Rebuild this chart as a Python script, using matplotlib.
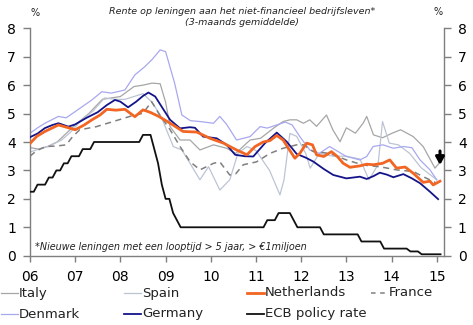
import matplotlib
matplotlib.use("Agg")
import matplotlib.pyplot as plt
from matplotlib.lines import Line2D

# ---------------- data (decimal years, % ) ----------------
germany_x = [2006.0, 2006.17, 2006.33, 2006.5, 2006.63, 2006.85, 2007.0, 2007.25, 2007.5, 2007.7,
             2007.88, 2008.0, 2008.17, 2008.35, 2008.5, 2008.62, 2008.77, 2008.95, 2009.1, 2009.32,
             2009.54, 2009.65, 2009.83, 2010.13, 2010.35, 2010.54, 2010.75, 2010.94, 2011.2, 2011.46,
             2011.68, 2011.9, 2012.1, 2012.27, 2012.5, 2012.71, 2013.0, 2013.3, 2013.45, 2013.6,
             2013.74, 2013.9, 2014.04, 2014.26, 2014.45, 2014.63, 2014.85, 2015.03]
germany_y = [4.17, 4.3, 4.49, 4.6, 4.66, 4.54, 4.62, 4.85, 5.05, 5.3,
             5.48, 5.42, 5.22, 5.42, 5.62, 5.74, 5.6, 5.15, 4.78, 4.48,
             4.52, 4.5, 4.19, 4.13, 3.9, 3.55, 3.5, 3.49, 3.96, 4.33,
             4.01, 3.58, 3.45, 3.31, 3.05, 2.84, 2.72, 2.78, 2.7, 2.8,
             2.92, 2.85, 2.76, 2.87, 2.72, 2.55, 2.25, 1.99]

nl_x = [2006.0, 2006.15, 2006.33, 2006.63, 2006.85, 2007.0, 2007.2, 2007.37, 2007.55, 2007.7,
        2007.9, 2008.1, 2008.32, 2008.5, 2008.65, 2008.85, 2009.1, 2009.39, 2009.69, 2009.98,
        2010.28, 2010.57, 2010.8, 2010.98, 2011.16, 2011.31, 2011.46, 2011.6, 2011.75, 2011.86,
        2011.97, 2012.12, 2012.25, 2012.34, 2012.5, 2012.67, 2012.8, 2012.93, 2013.08, 2013.3,
        2013.45, 2013.6, 2013.8, 2013.96, 2014.11, 2014.3, 2014.48, 2014.7, 2014.85, 2014.92, 2015.07]
nl_y = [3.95, 4.2, 4.37, 4.6, 4.5, 4.43, 4.6, 4.78, 4.95, 5.15,
        5.12, 5.15, 4.89, 5.13, 5.05, 4.9, 4.66, 4.37, 4.35, 4.13,
        3.96, 3.72, 3.55, 3.84, 4.0, 4.05, 4.23, 4.07, 3.7, 3.43,
        3.6, 3.96, 3.9, 3.55, 3.49, 3.66, 3.49, 3.25, 3.11, 3.16,
        3.22, 3.2, 3.25, 3.37, 3.08, 3.12, 2.9, 2.58, 2.62, 2.49, 2.62]

france_x = [2006.0, 2006.15, 2006.35, 2006.6, 2006.8, 2006.95, 2007.1, 2007.47, 2007.84, 2008.21,
            2008.5, 2008.69, 2008.85, 2009.1, 2009.32, 2009.54, 2009.76, 2010.06, 2010.2, 2010.42,
            2010.55, 2010.72, 2011.01, 2011.31, 2011.6, 2011.9, 2012.05, 2012.27, 2012.63, 2013.0,
            2013.37, 2013.74, 2014.11, 2014.48, 2014.7, 2015.0]
france_y = [3.5, 3.7, 3.84, 3.86, 3.9, 4.2, 4.43, 4.54, 4.72, 4.9,
            5.01, 5.42, 5.0, 4.43, 3.84, 3.31, 3.02, 3.25, 3.3, 2.84,
            2.88, 3.2, 3.3, 3.6, 3.78, 3.9, 3.9, 3.66, 3.6, 3.37,
            3.19, 3.13, 3.02, 2.96, 2.78, 2.55]

denmark_x = [2006.0, 2006.17, 2006.33, 2006.63, 2006.8, 2007.0, 2007.37, 2007.59, 2007.8, 2008.1,
             2008.32, 2008.54, 2008.7, 2008.88, 2009.0, 2009.2, 2009.36, 2009.55, 2009.76, 2010.06,
             2010.2, 2010.35, 2010.57, 2010.87, 2011.09, 2011.25, 2011.46, 2011.65, 2011.8, 2011.97,
             2012.19, 2012.4, 2012.63, 2013.0, 2013.3, 2013.45, 2013.59, 2013.81, 2014.04, 2014.26,
             2014.45, 2014.63, 2014.85, 2015.0]
denmark_y = [4.31, 4.5, 4.66, 4.9, 4.85, 5.07, 5.48, 5.77, 5.72, 5.83,
             6.36, 6.65, 6.9, 7.24, 7.18, 6.07, 4.95, 4.75, 4.72, 4.66,
             4.9, 4.62, 4.07, 4.19, 4.54, 4.49, 4.6, 4.7, 4.6, 4.19,
             3.72, 3.6, 3.84, 3.49, 3.37, 3.49, 3.84, 3.9, 3.78, 3.84,
             3.8, 3.37, 3.02, 2.67]

italy_x = [2006.0, 2006.2, 2006.4, 2006.6, 2006.8, 2007.0, 2007.3, 2007.6, 2007.8, 2008.0,
           2008.3, 2008.5, 2008.7, 2008.88, 2009.0, 2009.1, 2009.32, 2009.54, 2009.76, 2010.06,
           2010.35, 2010.55, 2010.87, 2011.1, 2011.4, 2011.6, 2011.75, 2011.9, 2012.05, 2012.19,
           2012.34, 2012.56, 2012.7, 2012.86, 2013.0, 2013.2, 2013.37, 2013.45, 2013.6, 2013.8,
           2014.0, 2014.2, 2014.48, 2014.7, 2014.96, 2015.05]
italy_y = [3.8, 3.75, 3.85, 4.0, 4.3, 4.6, 5.0, 5.5, 5.55, 5.6,
           5.95, 6.0, 6.07, 6.05, 5.4, 4.54, 4.07, 4.07, 3.72, 3.9,
           3.78, 3.6, 4.07, 4.13, 4.5, 4.72, 4.78, 4.78, 4.66, 4.78,
           4.55, 4.95, 4.43, 4.01, 4.5, 4.31, 4.66, 4.9, 4.25, 4.15,
           4.3, 4.43, 4.19, 3.84, 3.08, 3.25]

spain_x = [2006.0, 2006.2, 2006.4, 2006.7, 2006.9, 2007.1, 2007.4, 2007.65, 2007.9, 2008.1,
           2008.3, 2008.5, 2008.7, 2008.9, 2009.17, 2009.36, 2009.54, 2009.76, 2009.95, 2010.2,
           2010.42, 2010.6, 2010.8, 2011.0, 2011.3, 2011.53, 2011.62, 2011.75, 2011.9, 2012.1,
           2012.2, 2012.4, 2012.7, 2013.0, 2013.3, 2013.5, 2013.7, 2013.8, 2013.95, 2014.15,
           2014.4, 2014.65, 2015.0]
spain_y = [3.65, 3.75, 3.84, 4.07, 4.35, 4.7, 5.1, 5.55, 5.5, 5.5,
           5.6, 5.7, 5.4, 4.9, 3.84, 3.72, 3.25, 2.67, 3.13, 2.31,
           2.67, 3.6, 3.84, 3.7, 3.0, 2.14, 2.67, 4.3, 4.2, 3.6,
           3.08, 3.6, 3.5, 3.5, 3.4, 2.67, 3.2, 4.72, 3.96, 3.9,
           3.6, 3.1, 2.67]

# ECB main refinancing rate, monthly Jan 2006 .. Feb 2015
ecb_rate = ([2.25, 2.25, 2.5, 2.5, 2.5, 2.75, 2.75, 3.0, 3.0, 3.25, 3.25, 3.5] +
            [3.5, 3.5, 3.75, 3.75, 3.75] + [4.0] * 7 +
            [4.0] * 6 + [4.25, 4.25, 4.25, 3.75, 3.25, 2.5] +
            [2.0, 2.0, 1.5, 1.25] + [1.0] * 8 +
            [1.0] * 12 +
            [1.0, 1.0, 1.0, 1.25, 1.25, 1.25, 1.5, 1.5, 1.5, 1.5, 1.25, 1.0] +
            [1.0] * 6 + [0.75] * 6 +
            [0.75] * 4 + [0.5] * 6 + [0.25, 0.25] +
            [0.25] * 5 + [0.15, 0.15, 0.15] + [0.05] * 4 +
            [0.05, 0.05])
ecb_x = [2006 + i / 12 for i in range(len(ecb_rate))]

year_ticks = list(range(2006, 2016))
year_labels = ["06", "07", "08", "09", "10", "11", "12", "13", "14", "15"]
y_ticks = list(range(0, 9))

# ---------------- figure ----------------
W, H = 473, 325
fig = plt.figure(figsize=(W / 100, H / 100), dpi=100)
plt.rcParams['font.family'] = ['DejaVu Sans']

ax = fig.add_axes([30 / W, 1 - 255.7 / H, (444 - 30) / W, (255.7 - 28.3) / H])

c_italy = '#a6a6a6'
c_spain = '#bcc4d4'
c_nl = '#f26522'
c_france = '#7f7f7f'
c_dk = '#a8a8f0'
c_de = '#14148a'
c_ecb = '#111111'

ax.plot(italy_x, italy_y, color=c_italy, lw=0.9, zorder=2)
ax.plot(spain_x, spain_y, color=c_spain, lw=0.9, zorder=2)
ax.plot(denmark_x, denmark_y, color=c_dk, lw=0.9, zorder=2)
ax.plot(france_x, france_y, color=c_france, lw=1.1, ls=(0, (4, 3)), zorder=3)
ax.plot(germany_x, germany_y, color=c_de, lw=1.3, zorder=4)
ax.plot(nl_x, nl_y, color=c_nl, lw=2.0, zorder=5)
ax.plot(ecb_x, ecb_rate, color=c_ecb, lw=1.3, zorder=6)

ax.set_xlim(2006, 2015.16)
ax.set_ylim(0, 8)
ax.set_xticks(year_ticks)
ax.set_xticklabels(year_labels)
ax.set_yticks(y_ticks)

spine_c = '#7f7f7f'
for s in ['left', 'right', 'bottom']:
    ax.spines[s].set_color(spine_c)
    ax.spines[s].set_linewidth(1.0)
ax.spines['top'].set_visible(False)

ax.tick_params(axis='y', which='both', left=True, right=True, labelleft=True, labelright=True,
               direction='out', length=5, width=1.0, color=spine_c, labelsize=10, pad=5)
ax.tick_params(axis='x', direction='out', length=4, width=1.0, color=spine_c, labelsize=10, pad=6)

# titles / annotations
fig.text(242 / W, 1 - 11 / H, "Rente op leningen aan het niet-financieel bedrijfsleven*",
         ha='center', va='center', fontsize=6.8, style='italic', color='#222222')
fig.text(242 / W, 1 - 22.5 / H, "(3-maands gemiddelde)",
         ha='center', va='center', fontsize=6.8, style='italic', color='#222222')
fig.text(35 / W, 1 - 13 / H, "%", ha='center', va='center', fontsize=7, color='#222222')
fig.text(438 / W, 1 - 12 / H, "%", ha='center', va='center', fontsize=7, color='#222222')
fig.text(35 / W, 1 - 246.5 / H, "*Nieuwe leningen met een looptijd > 5 jaar, > \u20ac1miljoen",
         ha='left', va='center', fontsize=6.9, style='italic', color='#222222')

# down arrow
ax.annotate('', xy=(440, H - 165), xycoords='figure pixels',
            xytext=(440, H - 151), textcoords='figure pixels',
            arrowprops=dict(arrowstyle='-|>,head_width=0.25,head_length=0.45',
                            color='black', lw=2.2, shrinkA=0, shrinkB=0))

# manual legend
entries = [
    ("Italy", c_italy, 0.9, '-', 0, 293),
    ("Spain", c_spain, 0.9, '-', 123, 293),
    ("Netherlands", c_nl, 2.0, '-', 246, 293),
    ("France", c_france, 1.1, (0, (3, 3)), 370, 293),
    ("Denmark", c_dk, 0.9, '-', 0, 314),
    ("Germany", c_de, 1.3, '-', 123, 314),
    ("ECB policy rate", c_ecb, 1.3, '-', 246, 314),
]
for label, col, lw, ls, x0, yc in entries:
    fig.add_artist(Line2D([(x0 + 1) / W, (x0 + 18) / W], [1 - yc / H, 1 - yc / H],
                          color=col, lw=lw, ls=ls, transform=fig.transFigure))
    fig.text((x0 + 19) / W, 1 - yc / H, label, ha='left', va='center', fontsize=9.5,
             color='#222222')

fig.savefig("out.png", dpi=100)
